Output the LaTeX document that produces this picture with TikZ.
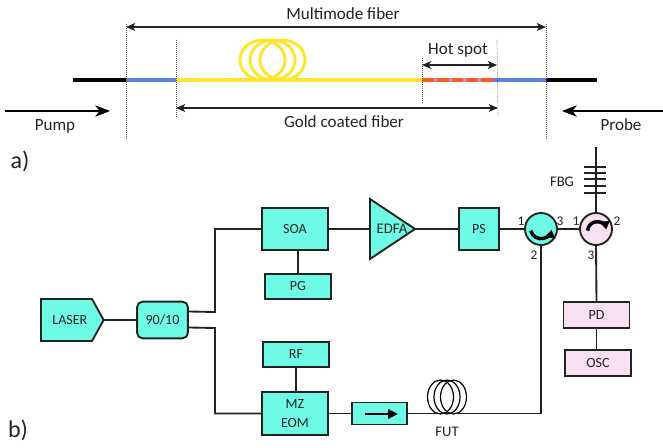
\documentclass[tikz,border=0pt]{standalone}
\usepackage{fontspec}
\setmainfont{Carlito}
\usetikzlibrary{arrows.meta,shapes.geometric,shapes.symbols}
\definecolor{boxcyan}{HTML}{6DFBE6}
\definecolor{boxpink}{HTML}{F7E1F1}
\definecolor{fibyellow}{HTML}{FFE52E}
\definecolor{fibblue}{HTML}{5A7DE6}
\definecolor{fiborange}{HTML}{FF5A22}
\definecolor{inkgray}{HTML}{222222}
\tikzset{
    fibre/.style={line width=2.6pt},
    coil/.style={line width=2.2pt,draw=fibyellow},
    link/.style={line width=1.4pt,draw=inkgray},
    span/.style={line width=0.8pt,draw=inkgray,{Stealth[length=7pt,width=6pt,inset=2pt]}-{Stealth[length=7pt,width=6pt,inset=2pt]}},
    beam/.style={line width=1pt,-{Stealth[length=11pt,width=8.5pt,inset=3pt]}},
    guide/.style={line width=0.5pt,draw=black!65,densely dotted},
    device/.style={draw=inkgray,line width=1.4pt,fill=boxcyan,inner sep=0pt,outer sep=0pt,align=center,font=\fontsize{10.5}{14}\selectfont,text=inkgray},
    readout/.style={device,fill=boxpink},
    port/.style={font=\fontsize{10}{12}\selectfont,text=inkgray,inner sep=0pt},
    caption/.style={font=\fontsize{12.8}{15}\selectfont,text=inkgray,inner sep=0pt},
    panel/.style={font=\fontsize{18}{21}\selectfont,text=inkgray,inner sep=0pt},
}
\begin{document}
\begin{tikzpicture}[x=0.75pt,y=-0.75pt]
    \useasboundingbox (0,0) rectangle (663,448);
    \coordinate (a1) at (73,80);
    \coordinate (a2) at (126,80);
    \coordinate (a3) at (176,80);
    \coordinate (a4) at (422,80);
    \coordinate (a5) at (493,80);
    \coordinate (a6) at (546,80);
    \coordinate (a7) at (597,80);
    \foreach \cx in {262.5,272.5,282.5} {
        \draw[coil] (\cx,60) ellipse (16.9pt and 15pt);
    }
    \draw[fibre] (a1) -- (a2);
    \draw[fibre,fibblue] (a2) -- (a3);
    \draw[fibre,fibyellow] (a3) -- (a4);
    \draw[fibre,black!35] (a4) -- (a5);
    \draw[fibre,fiborange,dash pattern=on 8.8pt off 2.3pt] (a4) -- (a5);
    \draw[fibre,fibblue] (a5) -- (a6);
    \draw[fibre] (a6) -- (a7);
    \draw[guide] (126,24) -- (126,139);
    \draw[guide] (176,40) -- (176,117);
    \draw[guide] (422,58) -- (422,103);
    \draw[guide] (497,40) -- (498,117);
    \draw[guide] (546,24) -- (546,139);
    \coordinate (m1) at (126,27);
    \coordinate (m2) at (546,27);
    \coordinate (c1) at (176,108);
    \coordinate (c2) at (498,108);
    \coordinate (h1) at (422,65);
    \coordinate (h2) at (497,65);
    \draw[span] (m1) -- (m2);
    \draw[span] (c1) -- (c2);
    \draw[span] (h1) -- (h2);
    \node[caption] (multimode) at (343,14) {Multimode fiber};
    \node[caption] (gold) at (344,122) {Gold coated fiber};
    \node[caption] (hotspot) at (458,50) {Hot spot};
    \coordinate (p1) at (5,111);
    \coordinate (p2) at (110,111);
    \coordinate (q1) at (663,111);
    \coordinate (q2) at (562,111);
    \draw[beam] (p1) -- (p2);
    \draw[beam] (q1) -- (q2);
    \node[caption] (pump) at (55,126) {Pump};
    \node[caption] (probe) at (621,125) {Probe};
    \node[panel] (pa) at (20,161) {a)};
    \node[panel] (pb) at (18,430) {b)};

    \node[device,shape=signal,signal to=east,signal pointer angle=122,minimum width=47pt,minimum height=31.5pt] (laser) at (66.5,320) {\hspace*{5pt}LASER};
    \node[device,rounded corners=4pt,minimum width=38pt,minimum height=27.5pt] (split) at (162.5,320) {90/10};
    \node[device,minimum width=49.5pt,minimum height=32pt] (soa) at (295,229) {SOA};
    \node[device,minimum width=49.5pt,minimum height=18.5pt] (pg) at (298,286.5) {PG};
    \node[device,minimum width=49.5pt,minimum height=18.5pt] (rf) at (296,354.5) {RF};
    \node[device,minimum width=49.5pt,minimum height=32pt] (eom) at (295,413.5) {MZ\\EOM};
    \node[device,shape=isosceles triangle,isosceles triangle apex angle=67,isosceles triangle stretches,minimum width=45pt,minimum height=33.75pt] (edfa) at (386,229) {};
    \node[font=\fontsize{11}{13}\selectfont,text=inkgray,inner sep=0pt] (edfatext) at (392,229) {EDFA};
    \node[device,minimum width=30pt,minimum height=32pt] (ps) at (479,229) {PS};
    \node[device,shape=circle,minimum size=24pt] (circa) at (541,229) {};
    \node[readout,shape=circle,minimum size=24pt] (circb) at (596,229) {};
    \node[device,minimum width=41pt,minimum height=16.5pt] (iso) at (379.5,413.5) {};
    \node[readout,minimum width=49.5pt,minimum height=19.5pt] (pd) at (596.5,315) {PD};
    \node[readout,minimum width=49.5pt,minimum height=19.5pt] (osc) at (598,363) {OSC};
    \draw[link] (laser.east) -- (split.west);
    \draw[link] ([yshift=6.4pt]split.east) -- (215,312) |- (soa.west);
    \draw[link] ([yshift=-5.6pt]split.east) -- (215,328) |- (eom.west);
    \draw[link] (pg.north) -- (pg.north |- soa.south);
    \draw[link] (rf.south) -- (rf.south |- eom.north);
    \draw[link] (soa.east) -- (edfa.west);
    \draw[link] (edfa.east) -- (ps.west);
    \draw[link] (ps.east) -- (circa.west);
    \draw[link] (circa.east) -- (circb.west);
    \draw[link] (eom.east) -- (iso.west);
    \coordinate (fbgtop) at (596,147);
    \draw[link] (fbgtop) -- (circb.north);
    \foreach \ty in {167,173,179,186,193} {
        \draw[link] (584,\ty) -- (606,\ty);
    }
    \node[port,font=\fontsize{11}{13}\selectfont] (fbg) at (562,182) {FBG};
    \coordinate (fut) at (446,414);
    \foreach \cx in {440.5,447,453.5} {
        \draw[line width=0.9pt] (\cx,397) ellipse (9.75pt and 12.75pt);
    }
    \draw[link] (iso.east) -- (iso.east -| fut) -| (circa.south);
    \draw[link] (circb.south) -- (pd.north);
    \draw[link] (pd.south) -- (osc.north -| pd.south);
    \node[port,font=\fontsize{11}{13}\selectfont] (futlabel) at (447,432) {FUT};
    \draw[line width=1.8pt,-{Stealth[length=7.5pt,width=7pt,inset=0pt]}] (365,414) coordinate (isoa) -- (398,414) coordinate (isob);
    \draw[line width=2.6pt,-{Stealth[length=6pt,width=7.5pt,inset=0pt]}] ([shift={(195:8pt)}]541,228) arc (195:350:8pt);
    \draw[line width=2.6pt,-{Stealth[length=6pt,width=7.5pt,inset=0pt]}] ([shift={(178:7pt)}]597,231) arc (178:10:7pt);
    \node[port] (n1) at (521,221) {1};
    \node[port] (n2) at (534,255) {2};
    \node[port] (n3) at (560,221) {3};
    \node[port] (n4) at (576,221) {1};
    \node[port] (n5) at (617,221) {2};
    \node[port] (n6) at (591,255) {3};
\end{tikzpicture}
\end{document}
